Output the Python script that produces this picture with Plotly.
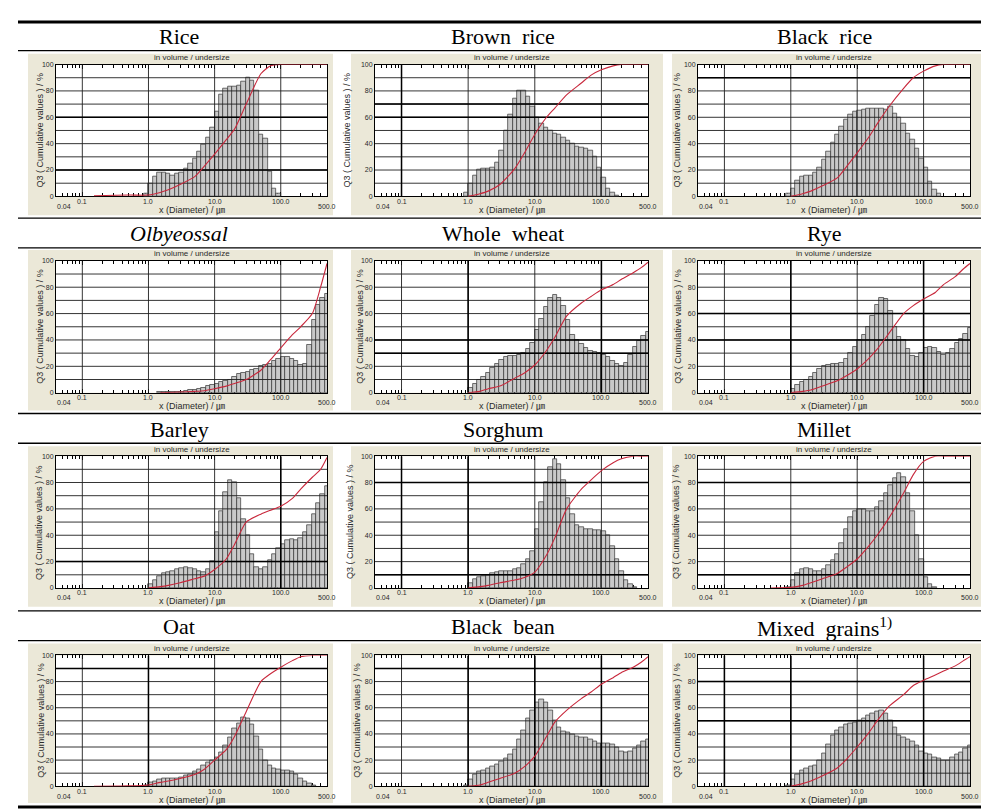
import numpy as np
import plotly.graph_objects as go

# ---------------- data ----------------
# particle size classes (edges, um)
CLASS_EDGES_UM = [0.86, 1.0, 1.17, 1.36, 1.58, 1.85, 2.15, 2.51, 2.93, 3.41, 3.98,
                  4.64, 5.41, 6.31, 7.36, 8.58, 10.0, 11.7, 13.6, 15.8, 18.5, 21.5,
                  25.1, 29.3, 34.1, 39.8, 46.4, 54.1, 63.1, 73.6, 85.8, 100.0, 117.0,
                  136.0, 158.0, 185.0, 215.0, 251.0, 293.0, 341.0, 398.0, 464.0, 541.0]

# x points of the cumulative (Q3) curves, um
CUM_X_UM = [0.15, 0.5, 1.0, 1.5, 2, 3, 5, 7, 10, 15, 20, 30, 50, 70, 100, 150, 200, 300, 400, 500]

PANEL_TITLES = ["Rice", "Brown\u00a0 rice", "Black\u00a0 rice",
                "<i>Olbyeossal</i>", "Whole\u00a0 wheat", "Rye",
                "Barley", "Sorghum", "Millet",
                "Oat", "Black\u00a0 bean", "Mixed\u00a0 grains<sup>1)</sup>"]

X_TICK_VALUES = [0.1, 1.0, 10.0, 100.0]
X_TICK_TEXT = ["0.1", "1.0", "10.0", "100.0"]
X_END_LABELS = ["0.04", "500.0"]
X_RANGE_UM = [0.04, 500.0]
Y_TICK_VALUES = [0, 20, 40, 60, 80, 100]
Y_TICK_TEXT = ["0", "20", "40", "60", "80", "100"]

# density histogram bars (one value per size class)
RICE_Q3 = [2, 10, 15, 18, 18, 17, 16, 17, 18, 21, 25, 29, 34, 39, 45, 52, 64, 77, 82, 83, 83,
           84, 87, 90, 88, 80, 47, 44, 19, 6, 2, 0, 0, 0, 0, 0, 0, 0, 0, 0, 0, 0]
BROWN_RICE_Q3 = [3, 10, 16, 20, 21, 21, 22, 26, 35, 50, 62, 74, 80, 80, 76, 68, 60, 55, 52, 50, 48,
                 47, 45, 42, 40, 38, 37, 36, 35, 30, 22, 14, 6, 3, 1, 0, 0, 0, 0, 0, 0, 0]
BLACK_RICE_Q3 = [2, 6, 12, 15, 16, 16, 18, 22, 28, 34, 41, 47, 53, 58, 62, 64, 65, 66, 67, 67, 67,
                 67, 66, 68, 63, 60, 55, 48, 43, 36, 29, 22, 11, 5, 2, 0, 0, 0, 0, 0, 0, 0]
OLBYEOSSAL_Q3 = [0, 0, 0, 0.5, 0.5, 0.5, 0.5, 1, 1, 1.5, 2, 2, 3, 4, 5, 6, 7, 8, 9, 10, 12,
                 14, 15, 16, 17, 18, 20, 21, 22, 24, 26, 27, 27, 26, 24, 21, 22, 36, 55, 67, 72, 75]
WHOLE_WHEAT_Q3 = [0, 4, 7, 10, 12, 15, 19, 22, 25, 27, 28, 28, 29, 30, 33, 38, 48, 56, 65, 72, 74,
                  72, 66, 55, 44, 40, 37, 34, 32, 31, 30, 29, 27, 24, 22, 20, 23, 29, 35, 39, 43, 46]
RYE_Q3 = [0, 3, 6, 8, 10, 12, 15, 18, 20, 21, 22, 22, 23, 26, 30, 35, 40, 44, 50, 58, 67,
          72, 71, 62, 50, 42, 40, 33, 28, 27, 30, 34, 35, 34, 31, 29, 30, 33, 38, 41, 45, 49]
BARLEY_Q3 = [0, 3, 6, 9, 11, 12, 13, 14, 15, 16, 15, 14, 13, 12, 14, 20, 42, 58, 73, 82, 80,
             68, 52, 40, 26, 16, 14, 16, 21, 26, 30, 33, 36, 37, 36, 38, 42, 48, 56, 64, 71, 77]
SORGHUM_Q3 = [0, 4, 7, 8, 9, 10, 11, 12, 13, 13, 13, 14, 15, 18, 22, 28, 45, 65, 80, 92, 98,
              94, 82, 68, 56, 48, 46, 45, 45, 44, 44, 43, 40, 32, 22, 13, 6, 3, 1, 0, 0, 0]
MILLET_Q3 = [1, 6, 11, 14, 15, 14, 13, 13, 14, 17, 21, 26, 34, 45, 54, 58, 60, 60, 58, 58, 61,
             66, 72, 78, 83, 87, 84, 72, 58, 40, 22, 8, 3, 1, 0, 0, 0, 0, 0, 0, 0, 0]
OAT_Q3 = [1, 3, 4, 5, 6, 6, 6, 6, 7, 8, 9, 11, 13, 16, 18, 20, 22, 26, 31, 37, 44,
          48, 53, 52, 47, 38, 28, 20, 16, 14, 13, 12, 12, 11, 9, 6, 4, 2, 1, 0, 0, 0]
BLACK_BEAN_Q3 = [1, 5, 9, 11, 12, 14, 15, 17, 19, 21, 24, 28, 36, 43, 52, 58, 64, 66, 64, 58, 50,
                 45, 42, 41, 40, 38, 37, 37, 36, 34, 33, 33, 33, 32, 30, 27, 26, 27, 29, 31, 34, 36]
MIXED_GRAINS_Q3 = [1, 5, 9, 12, 14, 15, 16, 20, 25, 32, 39, 43, 45, 47, 48, 49, 50, 52, 54, 56, 57,
                   58, 56, 50, 45, 39, 37, 36, 34, 31, 27, 25, 24, 22, 21, 20, 20, 22, 24, 26, 29, 31]

# cumulative Q3 curves (%), at CUM_X_UM
RICE_CUM = [0.5, 1, 1, 3, 5, 9, 15, 23, 32, 43, 51, 70, 93, 99, 100, 100, 100, 100, 100, 100]
BROWN_RICE_CUM = [None, None, 0, 2, 4, 9, 21, 33, 47, 60, 67, 77, 86, 92, 96, 99, 100, 100, 100, 100]
BLACK_RICE_CUM = [None, None, 0, 2, 4, 8, 14, 23, 33, 45, 55, 68, 82, 90, 95, 99, 100, 100, 100, 100]
OLBYEOSSAL_CUM = [None, None, None, 0, 0.2, 0.5, 1, 1.5, 3, 5, 7, 10, 17, 25, 34, 44, 50, 60, 80, 98]
WHOLE_WHEAT_CUM = [None, None, 0, 1, 3, 5, 11, 15, 21, 32, 42, 58, 68, 73, 78, 82, 86, 91, 95, 99]
RYE_CUM = [None, None, 0, 1, 2, 5, 9, 13, 18, 26, 33, 45, 60, 66, 71, 76, 82, 88, 94, 98]
BARLEY_CUM = [None, None, 0, 1, 2, 4, 7, 9, 14, 22, 33, 50, 56, 59, 62, 68, 75, 84, 90, 99]
SORGHUM_CUM = [None, None, 0, 1, 2, 4, 6, 8, 12, 25, 38, 60, 75, 82, 89, 95, 98, 100, 100, 100]
MILLET_CUM = [None, 0, 0.5, 2, 4, 7, 11, 16, 22, 32, 40, 53, 72, 86, 96, 100, 100, 100, 100, 100]
OAT_CUM = [0, 0.3, 1, 3, 4, 6, 9, 13, 20, 28, 38, 57, 80, 86, 91, 96, 99, 100, 100, 100]
BLACK_BEAN_CUM = [None, None, 0, 1, 3, 6, 10, 15, 23, 38, 49, 58, 67, 72, 78, 83, 87, 91, 95, 99]
MIXED_GRAINS_CUM = [None, None, 0, 2, 4, 8, 14, 21, 30, 41, 50, 61, 70, 77, 81, 85, 88, 92, 96, 99]

Q3_DENSITY = [RICE_Q3, BROWN_RICE_Q3, BLACK_RICE_Q3, OLBYEOSSAL_Q3, WHOLE_WHEAT_Q3, RYE_Q3,
              BARLEY_Q3, SORGHUM_Q3, MILLET_Q3, OAT_Q3, BLACK_BEAN_Q3, MIXED_GRAINS_Q3]
Q3_CUM = [RICE_CUM, BROWN_RICE_CUM, BLACK_RICE_CUM, OLBYEOSSAL_CUM, WHOLE_WHEAT_CUM, RYE_CUM,
          BARLEY_CUM, SORGHUM_CUM, MILLET_CUM, OAT_CUM, BLACK_BEAN_CUM, MIXED_GRAINS_CUM]

# cursor (highlighted) grid lines of the instrument plots
CURSOR_Q3 = [[20, 60], [60, 70], [90], [], [30, 40], [40, 60],
             [20], [10, 80], [10, 80], [90], [90], [50, 80]]
CURSOR_X_UM = [[], [0.1], [], [], [1.0, 100.0], [1.0, 100.0],
               [100.0], [0.1, 1.0], [], [1.0], [1.0, 10.0, 100.0], [0.1, 1.0, 100.0]]

# ---------------- layout (pixels) ----------------
W, H = 989, 812
COL_X = [(48, 319), (367, 640), (690, 962)]
ROW_Y = [(53, 186), (251, 384), (448, 581), (649, 781)]
BEIGE_X = [(20, 325), (343, 655), (664, 975)]
BEIGE_Y = [(42, 205), (240, 402), (438, 600), (637, 798)]
TITLE_Y = [25, 223, 421, 620]
COL_CENTER = [171, 495, 816]
YLAB_DX = [-16, -28, -21, -16, -15, -20, -17, -25, -22, -15, -18, -21]
RULES_THIN = [39, 208, 238, 405, 435, 604, 634]
RULES_THICK = [10, 802]

SANS = "Arial, Liberation Sans, Noto Sans CJK JP, sans-serif"
SERIF = "Times New Roman, Liberation Serif, serif"
TXT = "#2a2a2a"


def px(x):
    return x / W


def py(y):
    return 1 - y / H


edges = np.log10(np.array(CLASS_EDGES_UM))
centers = (edges[:-1] + edges[1:]) / 2
widths = edges[1:] - edges[:-1]
XMIN, XMAX = np.log10(X_RANGE_UM[0]), np.log10(X_RANGE_UM[1])
minor_um = [m * 10.0 ** e for e in range(-2, 3) for m in range(2, 10)]
minor_vals = [np.log10(v) for v in minor_um if X_RANGE_UM[0] < v < X_RANGE_UM[1]]

fig = go.Figure()
beige_shapes, white_shapes, rule_shapes = [], [], []
annotations = []
layout_axes = {}

for i in range(12):
    r, c = divmod(i, 3)
    sfx = "" if i == 0 else str(i + 1)
    xa, ya = "x" + sfx, "y" + sfx
    (l, rr), (t, b) = COL_X[c], ROW_Y[r]

    heights = [v if v > 0 else None for v in Q3_DENSITY[i]]
    fig.add_trace(go.Bar(x=centers, y=heights, width=widths,
                         marker=dict(color="#c9c9c9", line=dict(color="#333333", width=0.7)),
                         xaxis=xa, yaxis=ya, showlegend=False, hoverinfo="skip"))

    gx, gy = [], []
    for v in range(10, 100, 10):
        gx += [XMIN, XMAX, None]
        gy += [v, v, None]
    for d in X_TICK_VALUES:
        gx += [np.log10(d), np.log10(d), None]
        gy += [0, 100, None]
    fig.add_trace(go.Scatter(x=gx, y=gy, mode="lines", line=dict(color="#1e1e1e", width=0.9),
                             xaxis=xa, yaxis=ya, showlegend=False, hoverinfo="skip"))

    hx, hy = [], []
    for v in CURSOR_Q3[i]:
        hx += [XMIN, XMAX, None]
        hy += [v, v, None]
    for d in CURSOR_X_UM[i]:
        hx += [np.log10(d), np.log10(d), None]
        hy += [0, 100, None]
    if hx:
        fig.add_trace(go.Scatter(x=hx, y=hy, mode="lines", line=dict(color="#000000", width=1.5),
                                 xaxis=xa, yaxis=ya, showlegend=False, hoverinfo="skip"))

    fig.add_trace(go.Scatter(x=np.log10(CUM_X_UM), y=Q3_CUM[i], mode="lines",
                             line=dict(color="#c8283c", width=1.1, shape="spline", smoothing=0.6),
                             xaxis=xa, yaxis=ya, showlegend=False, hoverinfo="skip",
                             cliponaxis=False))

    layout_axes["xaxis" + sfx] = dict(
        domain=[px(l), px(rr)], anchor=ya, range=[XMIN, XMAX],
        tickmode="array", tickvals=list(np.log10(X_TICK_VALUES)), ticktext=X_TICK_TEXT,
        showticklabels=False, layer="below traces",
        showgrid=False, zeroline=False, showline=True, linecolor="black", linewidth=1,
        mirror="allticks", ticks="inside", ticklen=4, tickcolor="black", tickwidth=1,
        minor=dict(tickmode="array", tickvals=minor_vals, ticks="inside", ticklen=3,
                   tickcolor="black", tickwidth=1, showgrid=False),
        fixedrange=True)
    layout_axes["yaxis" + sfx] = dict(
        domain=[py(b), py(t)], anchor=xa, range=[0, 100], layer="below traces",
        tickmode="array", tickvals=Y_TICK_VALUES, ticktext=Y_TICK_TEXT,
        showgrid=False, zeroline=False, showline=True, linecolor="black", linewidth=1,
        mirror=True, ticks="", tickfont=dict(family=SANS, size=7, color=TXT), fixedrange=True)

    # beige instrument window, white plotting area
    beige_shapes.append(dict(type="rect", xref="paper", yref="paper", layer="below",
                             x0=px(BEIGE_X[c][0]), x1=px(BEIGE_X[c][1]),
                             y0=py(BEIGE_Y[r][1]), y1=py(BEIGE_Y[r][0]),
                             fillcolor="#ebe8d8", line=dict(width=0)))
    white_shapes.append(dict(type="rect", xref=xa + " domain", yref=ya + " domain", layer="below",
                             x0=0, x1=1, y0=0, y1=1, fillcolor="white", line=dict(width=0)))

    cx = (l + rr) / 2
    for tv, tt in zip(X_TICK_VALUES, X_TICK_TEXT):
        annotations.append(dict(text=tt, x=np.log10(tv), y=py(b + 5), xref=xa, yref="paper",
                                showarrow=False, xanchor="center", yanchor="middle",
                                font=dict(family=SANS, size=7, color=TXT)))
    annotations += [
        dict(text=PANEL_TITLES[i], x=px(COL_CENTER[c]), y=py(TITLE_Y[r]), xref="paper", yref="paper",
             showarrow=False, xanchor="center", yanchor="middle",
             font=dict(family=SERIF, size=22, color="black")),
        dict(text="in volume / undersize", x=px(cx), y=py(t - 0.5), xref="paper", yref="paper",
             showarrow=False, xanchor="center", yanchor="bottom",
             font=dict(family=SANS, size=8, color=TXT)),
        dict(text="Q3 ( Cumulative values ) / %", x=px(l + YLAB_DX[i]), y=py((t + b) / 2),
             xref="paper", yref="paper", showarrow=False, textangle=-90,
             xanchor="center", yanchor="middle", font=dict(family=SANS, size=9, color=TXT)),
        dict(text="x (Diameter) / \u339b", x=px(cx), y=py(b + 14), xref="paper", yref="paper",
             showarrow=False, xanchor="center", yanchor="middle",
             font=dict(family=SANS, size=9, color=TXT)),
        dict(text=X_END_LABELS[0], x=px(l - 1), y=py(b + 10), xref="paper", yref="paper",
             showarrow=False, xanchor="left", yanchor="middle",
             font=dict(family=SANS, size=7, color=TXT)),
        dict(text=X_END_LABELS[1], x=px(rr), y=py(b + 10), xref="paper", yref="paper",
             showarrow=False, xanchor="center", yanchor="middle",
             font=dict(family=SANS, size=7, color=TXT)),
    ]

for yv in RULES_THIN:
    rule_shapes.append(dict(type="line", xref="paper", yref="paper", x0=px(10), x1=px(976),
                            y0=py(yv), y1=py(yv), line=dict(color="black", width=1.3)))
for yv in RULES_THICK:
    rule_shapes.append(dict(type="line", xref="paper", yref="paper", x0=px(10), x1=px(976),
                            y0=py(yv), y1=py(yv), line=dict(color="black", width=3)))

fig.update_layout(width=W, height=H, margin=dict(l=0, r=0, t=0, b=0), autosize=False,
                  plot_bgcolor="white", paper_bgcolor="white", showlegend=False,
                  shapes=beige_shapes + white_shapes + rule_shapes,
                  annotations=annotations, bargap=0, **layout_axes)

fig.write_html("out.html")
